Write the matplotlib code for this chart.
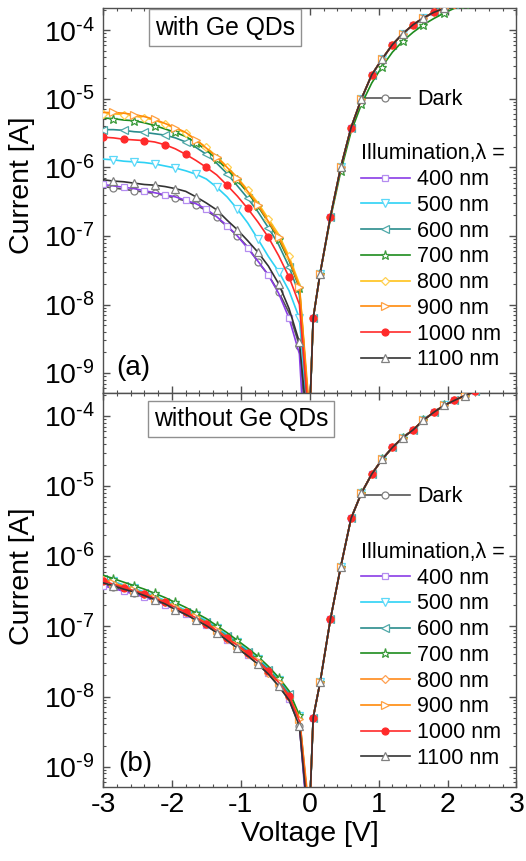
import numpy as np
import matplotlib
matplotlib.use("Agg")
import matplotlib.pyplot as plt
from matplotlib.lines import Line2D
from matplotlib.ticker import (FixedLocator, MultipleLocator, NullFormatter,
                               FuncFormatter)

plt.rcParams["font.family"] = ["Liberation Sans", "DejaVu Sans"]
plt.rcParams["axes.unicode_minus"] = False
plt.rcParams["mathtext.fontset"] = "custom"
plt.rcParams["mathtext.rm"] = "Liberation Sans"
plt.rcParams["mathtext.it"] = "Liberation Sans:italic"

# ---- data (log10 of current in A) ----
V_REV = [-3.0, -2.85, -2.7, -2.55, -2.4, -2.25, -2.1, -1.95, -1.8, -1.65,
         -1.5, -1.35, -1.2, -1.05, -0.9, -0.75, -0.6, -0.45, -0.3, -0.15]
V_FWD = [0.0, 0.05, 0.15, 0.3, 0.45, 0.6, 0.75, 0.9, 1.05, 1.2, 1.35,
         1.5, 1.65, 1.8, 1.95, 2.1, 2.25, 2.4]
FLOOR = -9.6  # |I| at the zero crossing, below the axis

NAMES = ["Dark", "400 nm", "500 nm", "600 nm", "700 nm", "800 nm",
         "900 nm", "1000 nm", "1100 nm"]
DECADES = [-9, -8, -7, -6, -5, -4]

# (a) with Ge QDs, reverse branch
a_dark = [-6.28, -6.30, -6.32, -6.34, -6.36, -6.38, -6.41, -6.45, -6.49, -6.55,
          -6.63, -6.73, -6.86, -7.00, -7.16, -7.38, -7.57, -7.82, -8.12, -8.60]
a_400 = [-6.25, -6.27, -6.29, -6.31, -6.34, -6.37, -6.40, -6.43, -6.48, -6.53,
         -6.61, -6.72, -6.85, -7.00, -7.18, -7.37, -7.57, -7.84, -8.20, -8.72]
a_500 = [-5.88, -5.89, -5.91, -5.92, -5.93, -5.95, -5.98, -6.01, -6.05, -6.10,
         -6.17, -6.29, -6.43, -6.61, -6.81, -7.05, -7.30, -7.52, -7.80, -8.20]
a_600 = [-5.45, -5.45, -5.46, -5.48, -5.49, -5.51, -5.53, -5.57, -5.63, -5.71,
         -5.81, -5.94, -6.09, -6.27, -6.45, -6.65, -6.88, -7.13, -7.45, -7.86]
a_700 = [-5.28, -5.29, -5.31, -5.32, -5.35, -5.39, -5.44, -5.49, -5.55, -5.64,
         -5.75, -5.88, -6.03, -6.19, -6.37, -6.57, -6.80, -7.05, -7.36, -7.76]
a_800 = [-5.22, -5.22, -5.23, -5.25, -5.28, -5.31, -5.37, -5.43, -5.50, -5.60,
         -5.71, -5.84, -5.99, -6.15, -6.33, -6.52, -6.75, -6.98, -7.30, -7.70]
a_900 = [-5.20, -5.20, -5.21, -5.23, -5.26, -5.30, -5.36, -5.42, -5.49, -5.60,
         -5.72, -5.85, -6.00, -6.16, -6.35, -6.55, -6.79, -7.02, -7.34, -7.74]
a_1000 = [-5.56, -5.57, -5.59, -5.60, -5.61, -5.63, -5.67, -5.73, -5.81, -5.90,
          -6.00, -6.11, -6.26, -6.42, -6.60, -6.80, -7.02, -7.29, -7.60, -8.00]
a_1100 = [-6.18, -6.20, -6.21, -6.23, -6.25, -6.26, -6.28, -6.31, -6.35, -6.43,
          -6.52, -6.62, -6.77, -6.91, -7.07, -7.24, -7.44, -7.70, -8.06, -8.55]
a_dip = [-0.07, -0.10, -0.04, -0.03, -0.01, -0.01, 0.0, -0.02, -0.05]
# forward branch
a_fwd = [FLOOR, -8.2, -7.55, -6.72, -6.0, -5.42, -5.0, -4.65, -4.42, -4.21,
         -4.05, -3.92, -3.82, -3.74, -3.68, -3.62, -3.57, -3.52]
a_fwd_700 = [FLOOR, -8.2, -7.55, -6.75, -6.06, -5.48, -5.08, -4.77, -4.53, -4.32,
             -4.16, -4.03, -3.92, -3.83, -3.75, -3.68, -3.62, -3.57]

# (b) without Ge QDs, reverse branch
b_dark = [-6.40, -6.44, -6.49, -6.53, -6.58, -6.63, -6.69, -6.76, -6.83, -6.91,
          -6.99, -7.09, -7.20, -7.31, -7.42, -7.54, -7.68, -7.85, -8.05, -8.42]
b_400 = [-6.42, -6.46, -6.50, -6.54, -6.58, -6.63, -6.69, -6.76, -6.83, -6.90,
         -6.98, -7.08, -7.19, -7.30, -7.41, -7.53, -7.67, -7.83, -8.03, -8.40]
b_500 = [-6.31, -6.36, -6.41, -6.46, -6.51, -6.57, -6.63, -6.70, -6.77, -6.84,
         -6.92, -7.02, -7.12, -7.23, -7.34, -7.46, -7.60, -7.76, -7.95, -8.28]
b_600 = [-6.33, -6.38, -6.43, -6.48, -6.53, -6.59, -6.65, -6.72, -6.79, -6.86,
         -6.94, -7.04, -7.14, -7.25, -7.36, -7.48, -7.62, -7.78, -7.97, -8.31]
b_700 = [-6.27, -6.32, -6.37, -6.42, -6.47, -6.53, -6.59, -6.66, -6.73, -6.81,
         -6.89, -6.99, -7.09, -7.20, -7.31, -7.43, -7.57, -7.73, -7.92, -8.27]
b_800 = [-6.34, -6.39, -6.44, -6.49, -6.54, -6.60, -6.66, -6.73, -6.80, -6.88,
         -6.97, -7.07, -7.18, -7.29, -7.40, -7.52, -7.66, -7.82, -8.01, -8.30]
b_900 = [-6.33, -6.38, -6.43, -6.48, -6.53, -6.59, -6.65, -6.72, -6.79, -6.87,
         -6.95, -7.05, -7.16, -7.27, -7.38, -7.50, -7.64, -7.80, -7.99, -8.32]
b_1000 = [-6.35, -6.40, -6.45, -6.49, -6.54, -6.60, -6.66, -6.73, -6.80, -6.88,
          -6.96, -7.06, -7.17, -7.27, -7.38, -7.50, -7.64, -7.80, -7.99, -8.35]
b_1100 = [-6.38, -6.42, -6.47, -6.51, -6.56, -6.62, -6.68, -6.76, -6.83, -6.91,
          -6.99, -7.09, -7.20, -7.31, -7.42, -7.54, -7.68, -7.85, -8.05, -8.42]
b_dip = [-0.04, -0.05, -0.04, -0.03, -0.02, -0.01, -0.02, -0.03, -0.04]
b_fwd = [FLOOR, -8.3, -7.8, -6.9, -6.15, -5.46, -5.10, -4.83, -4.62, -4.45,
         -4.31, -4.20, -4.06, -3.95, -3.85, -3.78, -3.71, -3.65]

# ---- styles ----
LINE_A = ["#555555", "#8A3CE6", "#2ED2F5", "#2A8C8C", "#1E8C1E", "#FFC21A",
          "#FF8A0A", "#FF2A2A", "#333333"]
LINE_B = ["#555555", "#8A3CE6", "#2ED2F5", "#2A8C8C", "#1E8C1E", "#FF8A1A",
          "#FF8A0A", "#FF2A2A", "#333333"]
EDGE_A = ["#808080", "#B48CF0", "#5CD8F8", "#4FA8A8", "#3A9A3A", "#FFD050",
          "#FFA040", "#FF2A2A", "#808080"]
EDGE_B = ["#808080", "#B48CF0", "#5CD8F8", "#4FA8A8", "#3A9A3A", "#FFA050",
          "#FFA040", "#FF2A2A", "#808080"]
MARKERS = ["o", "s", "v", "<", "*", "D", ">", "o", "^"]
MSIZE = [5, 5, 6, 6, 6.5, 4.5, 6, 5, 6]
OFFS = [1, 0, 1, 0, 1, 0, 1, 0, 1]

SPINE = "#505050"
FS_LAB = 20.5
FS_LEG = 15.5


def log_label(y, pos):
    # 10^-n with a plain hyphen like the original
    n = int(round(np.log10(y)))
    return r"$\mathdefault{10^{\text{-}%d}}$" % (-n)


def draw_panel(ax, rev, dips, fwds, lcol, ecol):
    for i in range(len(NAMES)):
        v = V_REV + [dips[i]] + V_FWD
        y = 10 ** np.array(rev[i] + [FLOOR] + fwds[i])
        ax.plot(v, y, color=lcol[i], lw=1.2, marker=MARKERS[i], ms=MSIZE[i],
                mfc=(lcol[i] if i == 7 else "white"), mec=ecol[i], mew=0.9,
                markevery=(OFFS[i], 2), zorder=2 + i)

    ax.set_yscale("log")
    ax.set_xlim(-3, 3)
    ax.set_ylim(10 ** -9.29, 10 ** -3.675)
    ax.xaxis.set_major_locator(MultipleLocator(1))
    ax.xaxis.set_minor_locator(MultipleLocator(0.2))
    ax.yaxis.set_major_locator(FixedLocator([10.0 ** d for d in DECADES]))
    minors = [k * 10.0 ** d for d in [-10] + DECADES for k in range(2, 10)]
    ax.yaxis.set_minor_locator(FixedLocator(
        [m for m in minors if 10 ** -9.29 < m < 10 ** -3.675]))
    ax.yaxis.set_major_formatter(FuncFormatter(log_label))
    ax.yaxis.set_minor_formatter(NullFormatter())
    ax.tick_params(which="both", direction="in", top=True, right=True,
                   color=SPINE, labelsize=FS_LAB)
    ax.tick_params(which="major", length=5, width=1)
    ax.tick_params(which="minor", length=2.5, width=0.8)
    ax.tick_params(axis="y", pad=6)
    for s in ax.spines.values():
        s.set_color(SPINE)
        s.set_linewidth(1.0)
    ax.set_ylabel("Current [A]", fontsize=FS_LAB)

    handles = []
    for i in range(len(NAMES)):
        handles.append(Line2D([], [], color=lcol[i], lw=1.2, marker=MARKERS[i],
                              ms=MSIZE[i], mec=ecol[i], mew=0.9,
                              mfc=(lcol[i] if i == 7 else "white")))
    return handles


fig = plt.figure(figsize=(5.26, 8.61), dpi=100)
ax1 = fig.add_axes([0.1958, 0.5436, 0.7861, 0.4472])
ax2 = fig.add_axes([0.1958, 0.0859, 0.7861, 0.4576])

rev_a = [a_dark, a_400, a_500, a_600, a_700, a_800, a_900, a_1000, a_1100]
fwd_a = [a_fwd, a_fwd, a_fwd, a_fwd, a_fwd_700, a_fwd, a_fwd, a_fwd, a_fwd]
rev_b = [b_dark, b_400, b_500, b_600, b_700, b_800, b_900, b_1000, b_1100]
fwd_b = [b_fwd] * 9

h1 = draw_panel(ax1, rev_a, a_dip, fwd_a, LINE_A, EDGE_A)
h2 = draw_panel(ax2, rev_b, b_dip, fwd_b, LINE_B, EDGE_B)
ax1.tick_params(axis="x", labelbottom=False)
ax2.set_xlabel("Voltage [V]", fontsize=FS_LAB, labelpad=2)
ax1.yaxis.set_label_coords(-0.165, 0.54)
ax2.yaxis.set_label_coords(-0.165, 0.535)

leg_kw = dict(frameon=False, fontsize=FS_LEG, handlelength=2.27,
              handletextpad=0.32, borderpad=0, borderaxespad=0,
              labelspacing=0.22, numpoints=1)

for ax, h, ydark, ytitle in [(ax1, h1, 0.761, 0.648), (ax2, h2, 0.737, 0.622)]:
    ld = ax.legend([h[0]], [NAMES[0]], loc="center left",
                   bbox_to_anchor=(0.624, ydark), **leg_kw)
    ax.add_artist(ld)
    li = ax.legend(h[1:], NAMES[1:], loc="upper left",
                   bbox_to_anchor=(0.624, ytitle), title="Illumination,\u03bb =",
                   title_fontsize=FS_LEG, alignment="left", **leg_kw)

box = dict(boxstyle="square,pad=0.25", fc="white", ec="#909090", lw=1)
ax1.text(0.295, 0.949, "with Ge QDs", transform=ax1.transAxes, fontsize=17.8,
         ha="center", va="center", bbox=box, zorder=20)
ax2.text(0.334, 0.934, "without Ge QDs", transform=ax2.transAxes, fontsize=17.8,
         ha="center", va="center", bbox=box, zorder=20)
ax1.text(0.033, 0.065, "(a)", transform=ax1.transAxes, fontsize=20,
         ha="left", va="center")
ax2.text(0.037, 0.058, "(b)", transform=ax2.transAxes, fontsize=20,
         ha="left", va="center")

fig.savefig("out.png", dpi=100)
